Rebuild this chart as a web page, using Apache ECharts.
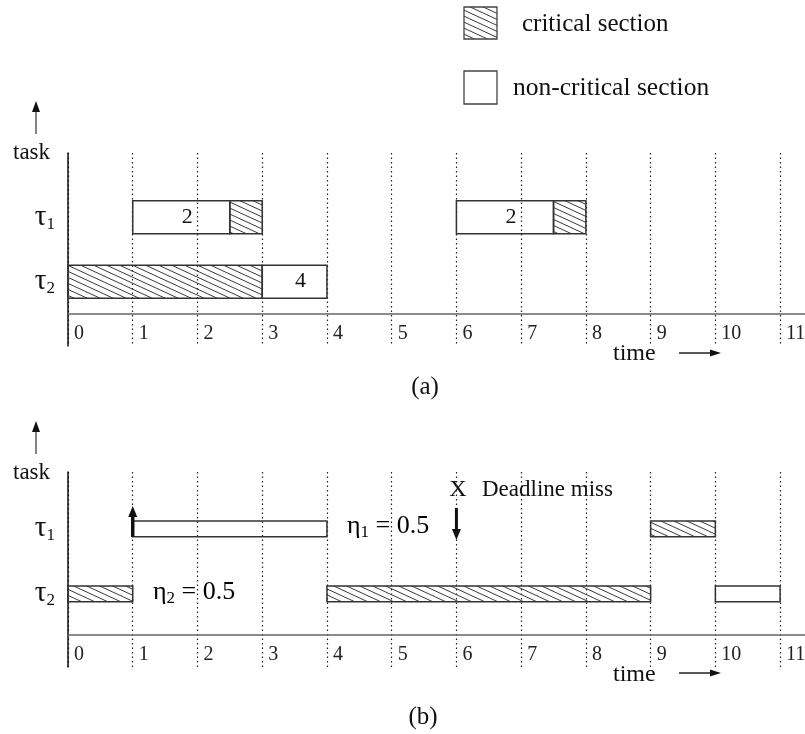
<!DOCTYPE html>
<html><head><meta charset="utf-8">
<script src="https://cdn.jsdelivr.net/npm/echarts@6/dist/echarts.min.js"></script>
<style>html,body{margin:0;padding:0;background:#fff;overflow:hidden}#c{width:805px;height:734px}</style>
</head><body><div id="c"></div>
<script>
// ---------- data ----------
const timeTicks = [0, 1, 2, 3, 4, 5, 6, 7, 8, 9, 10, 11];
const taskSubs = ['1', '2'];             // τ1, τ2
// panel (a): segments
const aTask     = [1, 1, 2, 2, 1, 1];
const aStart    = [1, 2.5, 0, 3, 6, 7.5];
const aEnd      = [2.5, 3, 3, 4, 7.5, 8];
const aCritical = [0, 1, 1, 0, 0, 1];
const aLabel    = ['2', '', '', '4', '2', ''];
// panel (b): segments
const bTask     = [1, 1, 2, 2, 2];
const bStart    = [1, 9, 0, 4, 10];
const bEnd      = [4, 10, 1, 9, 11];
const bCritical = [0, 1, 1, 1, 0];
// panel (b): events for τ1
const bArrival  = [1];
const bDeadline = [6];
const etaSub    = ['1', '2'];
const etaValue  = ['0.5', '0.5'];
const legendText = ['critical section', 'non-critical section'];

// ---------- layout/style ----------
const FONT = '"Liberation Serif", "DejaVu Serif", serif';
const rowBaseA = 0.5, rowBaseB = 0.625;
const thickA = 0.513, thickB = 0.246;

function makeHatch() {
  const W = 13, H = 6;
  const c = document.createElement('canvas');
  c.width = W; c.height = H;
  const g = c.getContext('2d');
  g.strokeStyle = '#3a3a3a'; g.lineWidth = 1;
  for (let k = -2; k <= 2; k++) {
    g.beginPath();
    g.moveTo(-W, -H + k * H);
    g.lineTo(2 * W, 2 * H + k * H);
    g.stroke();
  }
  return c;
}
const hatchCanvas = makeHatch();
const hatchFill = { image: hatchCanvas, repeat: 'repeat' };

function rowY(task, base) { return base + (taskSubs.length - task); }

function barRender(labels, thick) {
  return function (params, api) {
    const i = params.dataIndex;
    const p0 = api.coord([api.value(0), api.value(2)]);
    const p1 = api.coord([api.value(1), api.value(2)]);
    const h = api.size([0, thick])[1];
    const children = [{
      type: 'rect',
      shape: { x: p0[0], y: p0[1] - h / 2, width: p1[0] - p0[0], height: h },
      style: { fill: api.value(3) ? hatchFill : 'none', stroke: '#333', lineWidth: 1.5 }
    }];
    if (labels && labels[i]) {
      children.push({
        type: 'text',
        x: (p0[0] + p1[0]) / 2 + 6, y: p0[1],
        style: { text: labels[i], font: '22px ' + FONT, fill: '#111', align: 'center', verticalAlign: 'middle' }
      });
    }
    return { type: 'group', children };
  };
}

function arrowRender(params, api) {
  const p = api.coord([api.value(0), api.value(1)]);
  const dir = api.value(2); // 1 = up (arrival), -1 = down (deadline)
  const x = p[0], cy = p[1];
  if (dir > 0) {
    return { type: 'group', children: [
      { type: 'line', shape: { x1: x, y1: cy + 8, x2: x, y2: cy - 13 }, style: { stroke: '#111', lineWidth: 3.5 } },
      { type: 'polygon', shape: { points: [[x - 4.5, cy - 12], [x + 4.5, cy - 12], [x, cy - 23]] }, style: { fill: '#111' } }
    ]};
  }
  return { type: 'group', children: [
    { type: 'line', shape: { x1: x, y1: cy - 21, x2: x, y2: cy + 1 }, style: { stroke: '#111', lineWidth: 3 } },
    { type: 'polygon', shape: { points: [[x - 4.5, cy], [x + 4.5, cy], [x, cy + 11]] }, style: { fill: '#111' } }
  ]};
}

function xAxisOpt(gi, margin) {
  return {
    gridIndex: gi, type: 'value', min: timeTicks[0], max: 11.4, interval: 1,
    axisLine: { show: true, onZero: true, lineStyle: { color: '#666', width: 1.5 } },
    axisTick: { show: false },
    axisLabel: {
      margin: margin, align: 'left', padding: [0, 0, 0, 6],
      fontFamily: FONT, fontSize: 20, color: '#222',
      formatter: v => timeTicks.indexOf(v) >= 0 ? String(v) : ''
    },
    splitLine: { show: true, lineStyle: { color: '#222', width: 1.2, type: [1.5, 3] } }
  };
}
function yAxisOpt(gi, base, interval) {
  return {
    gridIndex: gi, type: 'value', min: -0.5, max: 2.5, interval,
    axisLine: { show: true, onZero: true, lineStyle: { color: '#111', width: 1.5 } },
    axisTick: { show: false }, splitLine: { show: false },
    axisLabel: {
      margin: 13,
      formatter: v => {
        for (let t = 1; t <= taskSubs.length; t++) {
          if (Math.abs(v - rowY(t, base)) < 1e-6) return '{t|τ}{s|' + taskSubs[t - 1] + '}';
        }
        return '';
      },
      rich: {
        t: { fontFamily: FONT, fontSize: 29, color: '#111' },
        s: { fontFamily: FONT, fontSize: 17, color: '#111', padding: [14, 0, 0, 0] }
      }
    }
  };
}

function upArrow(x, yTail, yTip) {
  return [
    { type: 'line', shape: { x1: x, y1: yTail, x2: x, y2: yTip + 10 }, style: { stroke: '#444', lineWidth: 1.3 } },
    { type: 'polygon', shape: { points: [[x - 4, yTip + 11], [x + 4, yTip + 11], [x, yTip]] }, style: { fill: '#111' } }
  ];
}
function rightArrow(x1, x2, y) {
  return [
    { type: 'line', shape: { x1: x1, y1: y, x2: x2 - 9, y2: y }, style: { stroke: '#222', lineWidth: 1.3 } },
    { type: 'polygon', shape: { points: [[x2 - 11, y - 3.5], [x2 - 11, y + 3.5], [x2, y]] }, style: { fill: '#111' } }
  ];
}
function txt(x, y, text, size, align) {
  return { type: 'text', x, y, style: { text, font: size + 'px ' + FONT, fill: '#111', align: align || 'left', verticalAlign: 'middle' } };
}
function etaLabel(x, y, i) {
  return { type: 'text', x, y, style: {
    text: '{e|η}{s|' + etaSub[i] + '}{e| = ' + etaValue[i] + '}',
    align: 'left', verticalAlign: 'middle',
    rich: {
      e: { fontFamily: FONT, fontSize: 26, color: '#111' },
      s: { fontFamily: FONT, fontSize: 17, color: '#111', padding: [14, 0, 0, 0] }
    }
  }};
}

const graphics = [].concat(
  [
    { type: 'rect', shape: { x: 464, y: 7, width: 33, height: 32 }, style: { fill: hatchFill, stroke: '#444', lineWidth: 1.3 } },
    txt(522, 24, legendText[0], 25),
    { type: 'rect', shape: { x: 464, y: 71, width: 33, height: 33 }, style: { fill: 'none', stroke: '#444', lineWidth: 1.3 } },
    txt(513, 88, legendText[1], 25.5),
    txt(13, 153, 'task', 23),
    txt(13, 473, 'task', 23),
    txt(613, 354, 'time', 24),
    txt(613, 675, 'time', 24),
    txt(425, 387, '(a)', 25, 'center'),
    txt(423, 717, '(b)', 25, 'center'),
    etaLabel(347, 526, 0),
    etaLabel(153, 592, 1),
    txt(458, 490, 'X', 24, 'center'),
    txt(482, 490, 'Deadline miss', 23)
  ],
  upArrow(36, 134, 101),
  upArrow(36, 454, 421),
  rightArrow(679, 721, 353),
  rightArrow(679, 721, 673)
);

const chart = echarts.init(document.getElementById('c'), null, { renderer: 'canvas', width: 805, height: 734 });
chart.setOption({
  animation: false,
  backgroundColor: '#fff',
  grid: [
    { left: 68, width: 738, top: 153, height: 193, outerBoundsMode: 'none', containLabel: false },
    { left: 68, width: 738, top: 472, height: 195, outerBoundsMode: 'none', containLabel: false }
  ],
  xAxis: [xAxisOpt(0, -22), xAxisOpt(1, -22)],
  yAxis: [yAxisOpt(0, rowBaseA, 0.5), yAxisOpt(1, rowBaseB, 0.125)],
  series: [
    {
      type: 'custom', xAxisIndex: 0, yAxisIndex: 0,
      renderItem: barRender(aLabel, thickA),
      encode: { x: [0, 1], y: 2 },
      data: aStart.map((s, i) => [s, aEnd[i], rowY(aTask[i], rowBaseA), aCritical[i]])
    },
    {
      type: 'custom', xAxisIndex: 1, yAxisIndex: 1,
      renderItem: barRender(null, thickB),
      encode: { x: [0, 1], y: 2 },
      data: bStart.map((s, i) => [s, bEnd[i], rowY(bTask[i], rowBaseB), bCritical[i]])
    },
    {
      type: 'custom', xAxisIndex: 1, yAxisIndex: 1,
      renderItem: arrowRender,
      encode: { x: 0, y: 1 },
      data: bArrival.map(t => [t, rowY(1, rowBaseB), 1]).concat(bDeadline.map(t => [t, rowY(1, rowBaseB), -1]))
    }
  ],
  graphic: graphics
});
</script></body></html>
